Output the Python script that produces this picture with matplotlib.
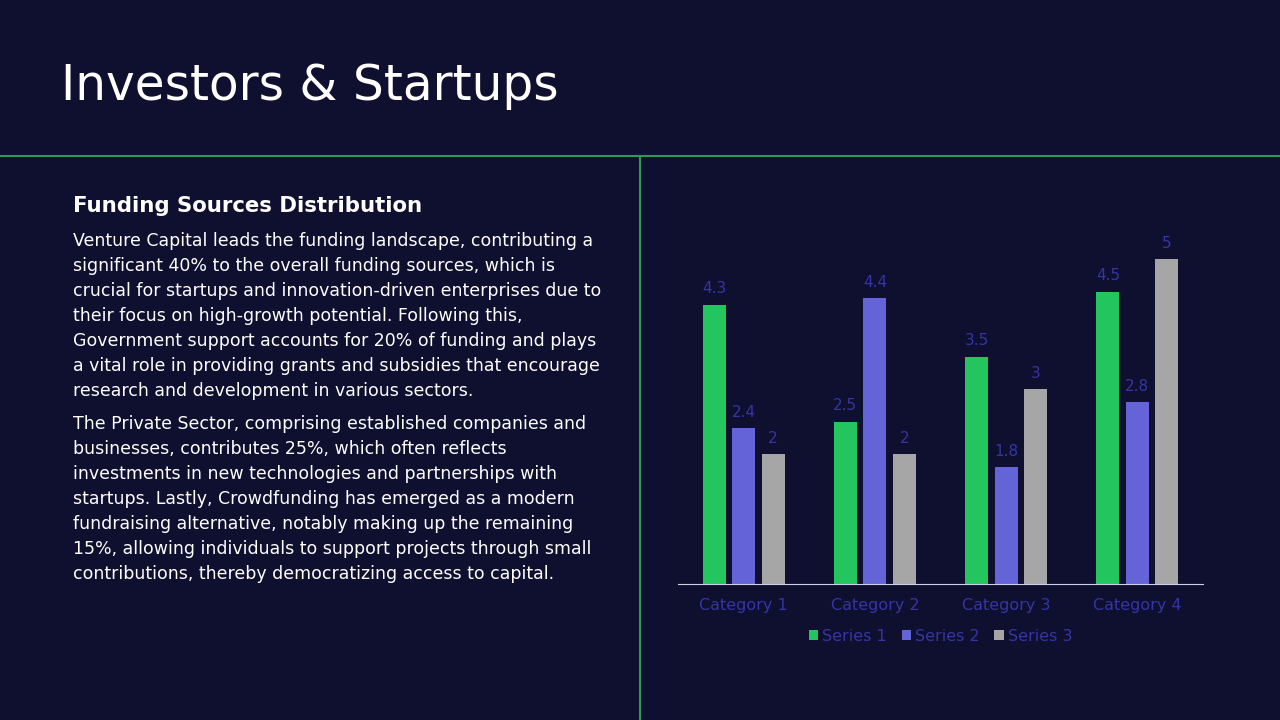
import matplotlib.pyplot as plt
import numpy as np

categories = ["Category 1", "Category 2", "Category 3", "Category 4"]
series_names = ["Series 1", "Series 2", "Series 3"]
series1 = [4.3, 2.5, 3.5, 4.5]
series2 = [2.4, 4.4, 1.8, 2.8]
series3 = [2, 2, 3, 5]
colors = ["#22c55e", "#6464d8", "#a6a6a6"]

title = "Investors & Startups"
heading = "Funding Sources Distribution"
para1 = [
    "Venture Capital leads the funding landscape, contributing a",
    "significant 40% to the overall funding sources, which is",
    "crucial for startups and innovation-driven enterprises due to",
    "their focus on high-growth potential. Following this,",
    "Government support accounts for 20% of funding and plays",
    "a vital role in providing grants and subsidies that encourage",
    "research and development in various sectors.",
]
para2 = [
    "The Private Sector, comprising established companies and",
    "businesses, contributes 25%, which often reflects",
    "investments in new technologies and partnerships with",
    "startups. Lastly, Crowdfunding has emerged as a modern",
    "fundraising alternative, notably making up the remaining",
    "15%, allowing individuals to support projects through small",
    "contributions, thereby democratizing access to capital.",
]

bg = "#0f0f30"
label_col = "#3535a5"

fig = plt.figure(figsize=(12.8, 7.2), dpi=100, facecolor=bg)

# slide text
fig.text(61 / 1280, 1 - 86 / 720, title, color="white", fontsize=35, va="center", ha="left")
fig.add_artist(plt.Line2D([0, 1], [1 - 156 / 720] * 2, color="#2f9a55", lw=1.5))
fig.add_artist(plt.Line2D([640 / 1280] * 2, [0, 1 - 156 / 720], color="#2f9a55", lw=1.5))

fig.text(73 / 1280, 1 - 206 / 720, heading, color="white", fontsize=15.3, fontweight="bold", va="center")
y = 241
for line in para1:
    fig.text(73 / 1280, 1 - y / 720, line, color="white", fontsize=12.5, va="center")
    y += 25
y = 424
for line in para2:
    fig.text(73 / 1280, 1 - y / 720, line, color="white", fontsize=12.5, va="center")
    y += 25

# chart
ax = fig.add_axes([678 / 1280, 1 - 584 / 720, 525 / 1280, 357.5 / 720])
ax.set_facecolor(bg)
x = np.arange(len(categories))
w = 0.175
off = 0.225
for i, (vals, c) in enumerate(zip([series1, series2, series3], colors)):
    bars = ax.bar(x + (i - 1) * off, vals, w, color=c, label=series_names[i])
    ax.bar_label(bars, labels=[f"{v:g}" for v in vals], padding=6, color=label_col, fontsize=11)

ax.set_xlim(-0.5, 3.5)
ax.set_ylim(0, 5.5)
ax.set_yticks([])
ax.set_xticks(x)
ax.set_xticklabels(categories, color=label_col, fontsize=11.5)
ax.tick_params(axis="x", length=0, pad=10)
for s in ["top", "left", "right"]:
    ax.spines[s].set_visible(False)
ax.spines["bottom"].set_color("#d0d0e0")
ax.legend(loc="upper center", bbox_to_anchor=(0.5, -0.085), ncol=3, frameon=False,
          labelcolor=label_col, fontsize=11.5, handlelength=0.6, handleheight=0.6,
          handletextpad=0.25, columnspacing=0.9)

fig.savefig("out.png", dpi=100, facecolor=bg)
